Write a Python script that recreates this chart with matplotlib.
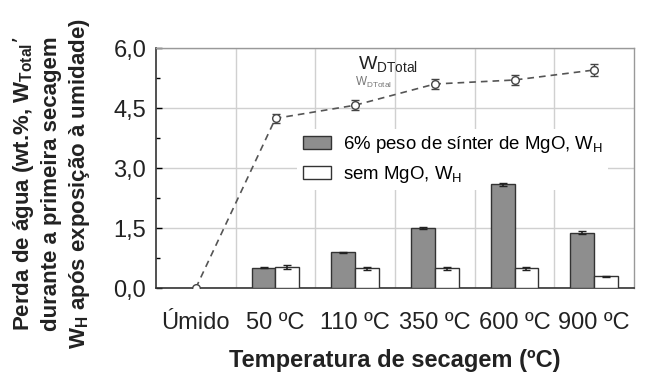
import matplotlib
matplotlib.use("Agg")
import matplotlib.pyplot as plt
import numpy as np
from matplotlib.ticker import FixedLocator, FuncFormatter

plt.rcParams['font.family'] = ['Liberation Sans', 'DejaVu Sans']
plt.rcParams['mathtext.default'] = 'regular'

# data
categorias = ["Úmido", "50 ºC", "110 ºC", "350 ºC", "600 ºC", "900 ºC"]
w_total = [0.0, 4.24, 4.57, 5.10, 5.20, 5.45]
w_total_err = [0.0, 0.12, 0.12, 0.13, 0.13, 0.15]
mgo_wh = [0.51, 0.89, 1.50, 2.59, 1.38]
mgo_wh_err = [0.02, 0.02, 0.03, 0.04, 0.04]
sem_wh = [0.52, 0.49, 0.49, 0.49, 0.29]
sem_wh_err = [0.05, 0.03, 0.03, 0.03, 0.02]

fig = plt.figure(figsize=(6.59, 3.75), dpi=100)
ax = fig.add_axes([156/659, 87/375, 478/659, 240/375])

x = np.arange(len(categorias))
xb = x[1:]
w = 0.3
ax.bar(xb - w/2, mgo_wh, w, yerr=mgo_wh_err, color='#8e8e8e', edgecolor='#333333',
       lw=1.0, capsize=3, error_kw=dict(ecolor='#222222', lw=1.2), zorder=3,
       label="6% peso de sínter de MgO, W$_{H}$")
ax.bar(xb + w/2, sem_wh, w, yerr=sem_wh_err, color='white', edgecolor='#333333',
       lw=1.0, capsize=3, error_kw=dict(ecolor='#222222', lw=1.2), zorder=3,
       label="sem MgO, W$_{H}$")

ax.errorbar(x, w_total, yerr=w_total_err, color='#555555', ls=(0, (4, 3)), lw=1.2,
            marker='o', ms=5.5, mfc='white', mec='#444444', capsize=3, ecolor='#444444',
            elinewidth=1.0, zorder=4)

ax.text(2.04, 5.47, "W$_{DTotal}$", fontsize=14, color='#222222')
ax.text(2.0, 5.04, "W$_{DTotal}$", fontsize=8.5, color='#777777')

ax.set_xlim(-0.5, 5.5)
ax.set_ylim(0, 6)
ax.set_xticks(x)
ax.set_xticklabels(categorias, fontsize=17, color='#222222')
ax.xaxis.set_minor_locator(FixedLocator(x[:-1] + 0.5))
ax.set_yticks([0, 1.5, 3.0, 4.5, 6.0])
ax.yaxis.set_minor_locator(FixedLocator([0.75, 2.25, 3.75, 5.25]))
ax.yaxis.set_major_formatter(FuncFormatter(lambda v, p: f"{v:.1f}".replace('.', ',')))
ax.tick_params(axis='y', direction='in', length=4, width=1, labelsize=17,
               labelcolor='#222222', pad=7)
ax.tick_params(axis='y', which='minor', direction='in', length=3, width=1)
ax.tick_params(axis='x', which='both', length=0, pad=17)

ax.grid(axis='x', which='minor', color='#d0d0d0', lw=1.0, zorder=0)
ax.grid(axis='y', which='major', color='#d0d0d0', lw=1.0, zorder=0)
for s in ['left', 'bottom']:
    ax.spines[s].set_color('#333333')
    ax.spines[s].set_linewidth(1.2)
for s in ['top', 'right']:
    ax.spines[s].set_color('#999999')
    ax.spines[s].set_linewidth(1.0)

ax.set_xlabel("Temperatura de secagem (ºC)", fontsize=17, fontweight='bold',
              labelpad=11, color='#222222')
fig.text(51/659, 1 - 184/375,
         "Perda de água (wt.%, W$_{Total}$’\ndurante a primeira secagem\nW$_{H}$ após exposição à umidade)",
         rotation=90, ha='center', va='center', multialignment='center',
         fontsize=16, fontweight='bold', color='#222222', linespacing=1.3)

leg = ax.legend(loc='center left', bbox_to_anchor=(0.295, 0.535), frameon=True,
                facecolor='white', edgecolor='none', framealpha=1, fontsize=13.4,
                handlelength=1.55, handleheight=0.7, handletextpad=0.6,
                labelspacing=0.45, borderpad=0.3, borderaxespad=0, fancybox=False)
leg.set_zorder(2.5)

fig.savefig("out.png", dpi=100)
